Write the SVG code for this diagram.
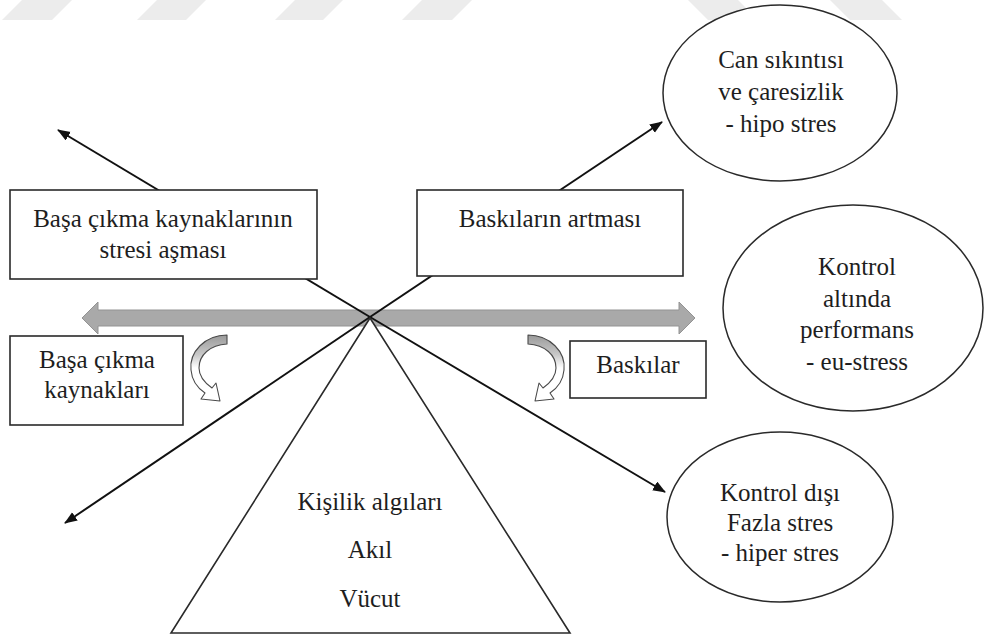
<svg xmlns="http://www.w3.org/2000/svg" width="985" height="643" viewBox="0 0 985 643">
  <style>
    text { font-family: 'Liberation Serif', 'Times New Roman', serif; font-size: 25px; fill: #1e1e1e; text-anchor: middle; }
    .box { fill: #ffffff; stroke: #2a2a2a; stroke-width: 1.6; }
    .oval { fill: #ffffff; stroke: #2a2a2a; stroke-width: 1.5; }
    .link { fill: none; stroke: #111111; stroke-width: 2; marker-end: url(#head); }
    .curl { stroke: #4a4a4a; stroke-width: 1.1; fill: url(#curlFill); stroke-linejoin: round; }
    .band { fill: #ececec; }
  </style>
  <defs>
    <marker id="head" markerUnits="userSpaceOnUse" markerWidth="14" markerHeight="11" refX="12" refY="5" orient="auto">
      <path d="M0,0 L13,5 L0,10 Z" fill="#111111"/>
    </marker>
    <linearGradient id="curlFill" x1="0" y1="0" x2="0" y2="1">
      <stop offset="0" stop-color="#9a9a9a"/>
      <stop offset="0.3" stop-color="#c8c8c8"/>
      <stop offset="0.5" stop-color="#ffffff"/>
      <stop offset="1" stop-color="#ffffff"/>
    </linearGradient>
    <path id="curlShape" d="M227,335 C205,335 189,352 191,370 C192,382 199,389 205,393 L201,399 L220,401 L216,383 L212,388 C205,383 199,376 199,368 C199,355 210,345 227,344 Z"/>
  </defs>

  <!-- light slanted bands along the top edge -->
  <g id="top-bands">
    <polygon class="band" points="2,20 52,20 72,0 22,0"/>
    <polygon class="band" points="137,20 186,20 206,0 157,0"/>
    <polygon class="band" points="275,20 323,20 343,0 295,0"/>
    <polygon class="band" points="402,20 452,20 472,0 422,0"/>
    <polygon class="band" points="688,0 738,0 758,20 708,20"/>
    <polygon class="band" points="830,0 882,0 902,20 850,20"/>
  </g>

  <!-- grey two-headed axis -->
  <g id="axis">
    <path d="M82,318 L98,302 L98,310 L679,310 L679,302 L695,318 L679,334 L679,326 L98,326 L98,334 Z" fill="#a9a9a9" stroke="#939393" stroke-width="1"/>
  </g>

  <!-- connectors radiating from the apex -->
  <g id="connectors">
    <line class="link" x1="370" y1="317" x2="58" y2="130"/>
    <line class="link" x1="370" y1="317" x2="662" y2="122"/>
    <line class="link" x1="370" y1="317" x2="65" y2="523"/>
    <line class="link" x1="370" y1="317" x2="665" y2="492"/>
  </g>

  <!-- curved arrows beside the axis -->
  <g id="curl-left">
    <use href="#curlShape" class="curl"/>
  </g>
  <g id="curl-right">
    <use href="#curlShape" class="curl" transform="translate(755,0) scale(-1,1)"/>
  </g>

  <g id="node-asma">
    <rect class="box" x="10" y="190" width="307" height="89"/>
    <text x="163" y="227">Başa çıkma kaynaklarının</text>
    <text x="163" y="258">stresi aşması</text>
  </g>

  <g id="node-artma">
    <rect class="box" x="417" y="190" width="266" height="86"/>
    <text x="550" y="227">Baskıların artması</text>
  </g>

  <g id="node-kaynaklar">
    <rect class="box" x="10" y="336" width="173" height="89"/>
    <text x="97" y="368">Başa çıkma</text>
    <text x="97" y="398">kaynakları</text>
  </g>

  <g id="node-baskilar">
    <rect class="box" x="570" y="341" width="136" height="57"/>
    <text x="638" y="373">Baskılar</text>
  </g>

  <g id="node-hipo">
    <ellipse class="oval" cx="780" cy="93" rx="117" ry="88"/>
    <text x="781" y="68">Can sıkıntısı</text>
    <text x="781" y="100">ve çaresizlik</text>
    <text x="781" y="132">- hipo stres</text>
  </g>

  <g id="node-eu">
    <ellipse class="oval" cx="853" cy="308" rx="130" ry="103"/>
    <text x="857" y="275">Kontrol</text>
    <text x="857" y="307">altında</text>
    <text x="857" y="338">performans</text>
    <text x="857" y="370">- eu-stress</text>
  </g>

  <g id="node-hiper">
    <ellipse class="oval" cx="780" cy="517" rx="113" ry="85"/>
    <text x="780" y="501">Kontrol dışı</text>
    <text x="780" y="531">Fazla stres</text>
    <text x="780" y="561">- hiper stres</text>
  </g>

  <g id="node-kisilik">
    <polygon points="370,318 171,633 570,633" fill="#ffffff" stroke="#2a2a2a" stroke-width="1.6"/>
    <text x="370" y="510">Kişilik algıları</text>
    <text x="370" y="558">Akıl</text>
    <text x="370" y="607">Vücut</text>
  </g>
</svg>
